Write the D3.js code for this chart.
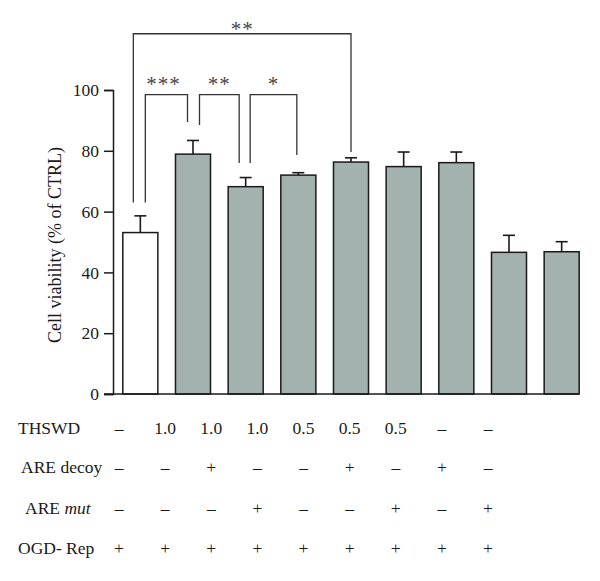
<!doctype html>
<html lang="en">
<head>
<meta charset="UTF-8">
<title>Cell viability</title>
<style>
  body { margin: 0; background: #fff; }
  text { font-family: "Liberation Serif", "Times New Roman", serif; fill: #1a1a1a; }
</style>
</head>
<body>
<svg id="chart"></svg>
<script src="https://d3js.org/d3.v7.min.js"></script>
<script>
const groups = ["g1", "g2", "g3", "g4", "g5", "g6", "g7", "g8", "g9"];
const means = [53.1, 78.9, 68.2, 72.0, 76.3, 74.8, 76.1, 46.6, 46.8];
const errs = [5.5, 4.5, 3.0, 0.8, 1.4, 4.8, 3.5, 5.6, 3.3];
const yTicks = [0, 20, 40, 60, 80, 100];

const rowLabels = ["THSWD", "ARE decoy", "ARE mut", "OGD- Rep"];
const thswd = ["–", "1.0", "1.0", "1.0", "0.5", "0.5", "0.5", "–", "–"];
const areDecoy = ["–", "–", "+", "–", "–", "+", "–", "+", "–"];
const areMut = ["–", "–", "–", "+", "–", "–", "+", "–", "+"];
const ogdRep = ["+", "+", "+", "+", "+", "+", "+", "+", "+"];

// significance brackets: [from group, to group, label]
const brackets = [
  [0, 4, "**"],
  [0, 1, "***"],
  [1, 2, "**"],
  [2, 3, "*"]
];

const width = 600, height = 581;
const svg = d3.select("#chart").attr("width", width).attr("height", height);

const y = d3.scaleLinear().domain([0, 100]).range([394, 90]);
const x = d3.scaleBand().domain(groups).range([114, 588])
  .paddingInner(0.335).paddingOuter(0.1675);
const col = d3.scalePoint().domain(groups).range([119, 488]);

// y axis
const yAxis = d3.axisLeft(y).tickValues(yTicks).tickSize(9).tickPadding(5);
const ag = svg.append("g").attr("transform", "translate(113,0)").call(yAxis);
ag.select(".domain").attr("stroke", "#1a1a1a").attr("stroke-width", 1.5);
ag.selectAll(".tick line").attr("stroke", "#1a1a1a").attr("stroke-width", 1.5);
ag.selectAll(".tick text").style("font-size", "17.5px").attr("fill", "#1a1a1a")
  .style("font-family", "'Liberation Serif', serif");

svg.append("text")
  .attr("transform", `translate(61,245) rotate(-90)`)
  .attr("text-anchor", "middle")
  .style("font-size", "18px")
  .text("Cell viability (% of CTRL)");

// bars
const bars = svg.append("g");
bars.selectAll("rect").data(groups).enter().append("rect")
  .attr("x", d => x(d))
  .attr("y", (d, i) => y(means[i]))
  .attr("width", x.bandwidth())
  .attr("height", (d, i) => y(0) - y(means[i]))
  .attr("fill", (d, i) => i === 0 ? "#fff" : "#a4b2af")
  .attr("stroke", "#1a1a1a")
  .attr("stroke-width", 1.5);

// error bars
const eb = svg.append("g").attr("stroke", "#1a1a1a").attr("stroke-width", 1.6);
groups.forEach((g, i) => {
  const cx = x(g) + x.bandwidth() / 2;
  eb.append("line").attr("x1", cx).attr("x2", cx)
    .attr("y1", y(means[i])).attr("y2", y(means[i] + errs[i]));
  eb.append("line").attr("x1", cx - 6).attr("x2", cx + 6)
    .attr("y1", y(means[i] + errs[i])).attr("y2", y(means[i] + errs[i]));
});

// baseline
svg.append("line").attr("x1", 104).attr("x2", x(groups[8]) + x.bandwidth())
  .attr("y1", y(0)).attr("y2", y(0))
  .attr("stroke", "#1a1a1a").attr("stroke-width", 1.5);

// significance brackets
const bg = svg.append("g").attr("fill", "none").attr("stroke", "#333").attr("stroke-width", 1.3);
const cxOf = i => x(groups[i]) + x.bandwidth() / 2;
// leg offsets and leg bottoms as value units
const legs = [
  { l: -7, r: 0, yl: 63, yr: 79.6, top: 118.5, dy: 2.5 },
  { l: 5, r: -5.5, yl: 63, yr: 89.5, top: 98.5, dy: -3.5 },
  { l: 6.5, r: -6.5, yl: 88.5, yr: 76, top: 98.5, dy: -3.5 },
  { l: 4.5, r: -1.5, yl: 76, yr: 78.6, top: 98.5, dy: -3.5 }
];
brackets.forEach((b, k) => {
  const L = legs[k];
  const x1 = cxOf(b[0]) + L.l, x2 = cxOf(b[1]) + L.r;
  bg.append("path")
    .attr("d", `M${x1},${y(L.yl)}V${y(L.top)}H${x2}V${y(L.yr)}`);
  svg.append("text")
    .attr("x", (x1 + x2) / 2 - (k === 1 ? 3 : 0))
    .attr("y", y(L.top) + L.dy)
    .attr("text-anchor", "middle")
    .style("font-size", "21px")
    .style("letter-spacing", "1px")
    .style("fill", "#444")
    .text(b[2]);
});

// treatment table
const rows = [thswd, areDecoy, areMut, ogdRep];
const rowY = [434, 473, 514, 554];
const labelX = [18, 21, 25, 18];
rows.forEach((vals, r) => {
  const t = svg.append("text").attr("x", labelX[r]).attr("y", rowY[r])
    .style("font-size", "17.5px");
  if (rowLabels[r] === "ARE mut") {
    t.append("tspan").text("ARE ");
    t.append("tspan").style("font-style", "italic").text("mut");
  } else {
    t.text(rowLabels[r]);
  }
  svg.append("g").selectAll("text").data(vals).enter().append("text")
    .attr("x", (d, i) => col(groups[i]))
    .attr("y", rowY[r])
    .attr("text-anchor", "middle")
    .style("font-size", "17.5px")
    .text(d => d);
});
</script>
</body>
</html>
